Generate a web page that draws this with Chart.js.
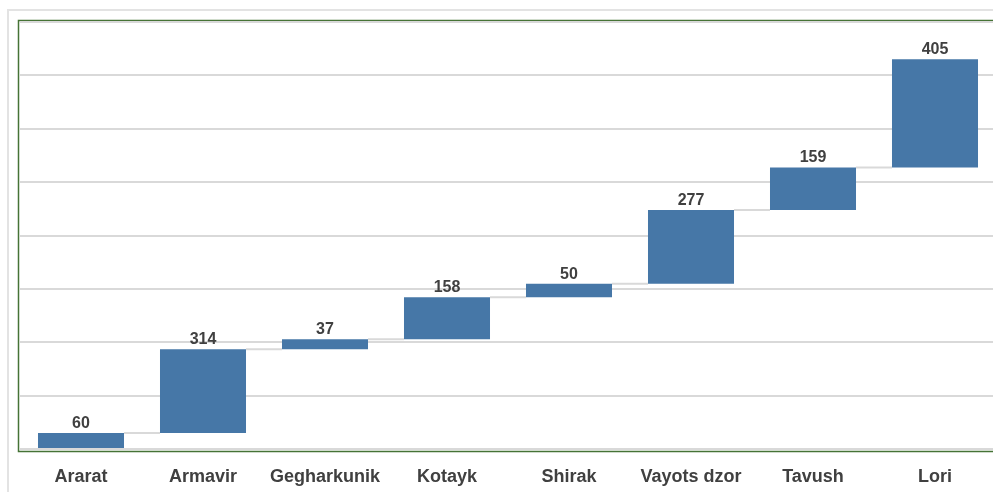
<!DOCTYPE html>
<html>
<head>
<meta charset="utf-8">
<script src="https://cdn.jsdelivr.net/npm/chart.js@4"></script>
<style>
    html, body { margin: 0; padding: 0; background: #fff; overflow: hidden; }
    #wrap { width: 993px; height: 492px; overflow: hidden; }
</style>
</head>
<body>
<div id="wrap"><canvas id="chart" width="1010" height="492" style="width:1010px;height:492px"></canvas></div>
<script>
var regions = ['Ararat', 'Armavir', 'Gegharkunik', 'Kotayk', 'Shirak', 'Vayots dzor', 'Tavush', 'Lori'];
var values = [60, 314, 37, 158, 50, 277, 159, 405];
var yMax = 1600;
var yStep = 200;

// running totals for the waterfall
var ranges = [];
var ends = [];
var total = 0;
for (var i = 0; i < values.length; i++) {
    ranges.push([total, total + values[i]]);
    total += values[i];
    ends.push(total);
}

var textColor = '#404040';
var gridColor = '#d9d9d9';

var frames = {
    id: 'frames',
    beforeDraw: function (chart) {
        var ctx = chart.ctx;
        var area = chart.chartArea;
        ctx.save();
        // outer light border
        ctx.strokeStyle = '#e3e3e3';
        ctx.lineWidth = 2;
        ctx.beginPath();
        ctx.moveTo(8, chart.height);
        ctx.lineTo(8, 10);
        ctx.lineTo(chart.width, 10);
        ctx.stroke();
        // green plot frame
        ctx.strokeStyle = '#467336';
        ctx.lineWidth = 1.5;
        ctx.beginPath();
        ctx.moveTo(chart.width, area.bottom + 2.5);
        ctx.lineTo(area.left - 1.5, area.bottom + 2.5);
        ctx.lineTo(area.left - 1.5, area.top - 1.5);
        ctx.lineTo(chart.width, area.top - 1.5);
        ctx.stroke();
        ctx.restore();
    },
    beforeDatasetsDraw: function (chart) {
        var ctx = chart.ctx;
        var meta = chart.getDatasetMeta(0);
        var y = chart.scales.y;
        ctx.save();
        ctx.strokeStyle = gridColor;
        ctx.lineWidth = 2;
        for (var i = 0; i < meta.data.length - 1; i++) {
            var a = meta.data[i];
            var b = meta.data[i + 1];
            var py = y.getPixelForValue(ends[i]);
            ctx.beginPath();
            ctx.moveTo(a.x + a.width / 2, py);
            ctx.lineTo(b.x - b.width / 2, py);
            ctx.stroke();
        }
        ctx.restore();
    },
    afterDatasetsDraw: function (chart) {
        var ctx = chart.ctx;
        var meta = chart.getDatasetMeta(0);
        ctx.save();
        ctx.fillStyle = textColor;
        ctx.font = 'bold 16px "Liberation Sans", Arial, sans-serif';
        ctx.textAlign = 'center';
        ctx.textBaseline = 'alphabetic';
        meta.data.forEach(function (bar, i) {
            var top = Math.min(bar.y, bar.base);
            ctx.fillText(String(values[i]), bar.x, top - 5);
        });
        ctx.restore();
    }
};

var ctx = document.getElementById('chart').getContext('2d');
var chart = new Chart(ctx, {
    type: 'bar',
    data: {
        labels: regions,
        datasets: [{
            data: ranges,
            backgroundColor: '#4677a7',
            borderWidth: 0,
            barPercentage: 0.705,
            categoryPercentage: 1
        }]
    },
    options: {
        responsive: false,
        animation: false,
        devicePixelRatio: 1,
        layout: { padding: { left: 20, right: 14, top: 22, bottom: 3 } },
        plugins: {
            legend: { display: false },
            tooltip: { enabled: false }
        },
        scales: {
            x: {
                grid: { display: false },
                border: { display: false },
                ticks: {
                    color: textColor,
                    font: { family: '"Liberation Sans", Arial, sans-serif', size: 18, weight: 'bold' },
                    padding: 9,
                    maxRotation: 0,
                    autoSkip: false
                },
                afterFit: function (scale) { scale.height = 40; }
            },
            y: {
                min: 0,
                max: yMax,
                ticks: { display: false, stepSize: yStep },
                grid: { color: gridColor, lineWidth: 2, drawTicks: false },
                border: { display: false },
                afterFit: function (scale) { scale.width = 0; }
            }
        }
    },
    plugins: [frames]
});
</script>
</body>
</html>
